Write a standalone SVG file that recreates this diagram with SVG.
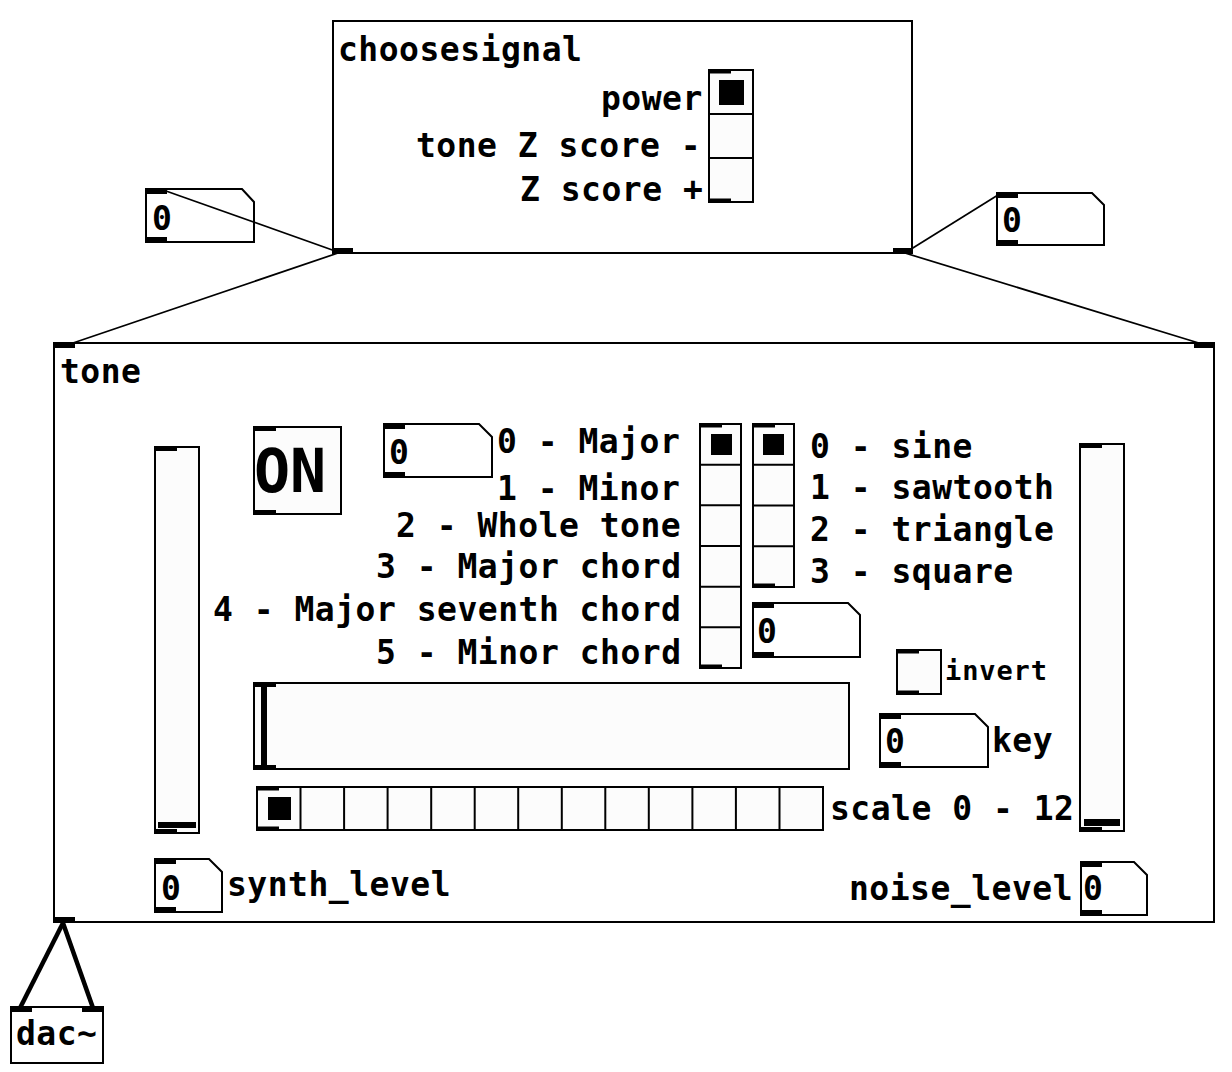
<svg xmlns="http://www.w3.org/2000/svg" width="1232" height="1072" viewBox="0 0 1232 1072">
<style>
.t{font-family:"DejaVu Sans Mono","Liberation Mono",monospace;font-weight:bold;font-size:33px;letter-spacing:0.5px;fill:#000}
.s{font-size:27px;letter-spacing:0.9px}
.on{font-size:60px;letter-spacing:0}
.box{fill:#fff;stroke:#000;stroke-width:2}
.cv{fill:none;stroke:#000;stroke-width:2}
.gui{fill:#fcfcfc;stroke:#000;stroke-width:2}
.dv{stroke:#000;stroke-width:2;fill:none}
.io{fill:#000}
.cn{stroke:#000;stroke-width:1.7;fill:none}
.sig{stroke:#000;stroke-width:4.5;fill:none}
</style>
<rect width="1232" height="1072" fill="#fff"/>

<g id="choosesignal">
<rect class="cv" x="333" y="21" width="579" height="232"/>
<rect class="io" x="333" y="248" width="20" height="5"/>
<rect class="io" x="893" y="248" width="19" height="5"/>
<text class="t" x="338" y="61">choosesignal</text>
<text class="t" x="601" y="110">power</text>
<text class="t" x="416" y="157">tone Z score -</text>
<text class="t" x="520" y="201">Z score +</text>
</g>

<g id="radio-signal">
<rect class="gui" x="709" y="70" width="44" height="132"/>
<path class="dv" d="M709 114H753M709 158H753"/>
<rect class="io" x="709" y="70" width="22" height="3.5"/>
<rect class="io" x="709" y="198.5" width="22" height="3.5"/>
<rect class="io" x="719" y="80" width="25" height="25"/>
</g>

<g id="num-left">
<path class="box" d="M146 189H242L254 202V242H146Z"/>
<rect class="io" x="146" y="189" width="21" height="5"/>
<rect class="io" x="146" y="237" width="21" height="5"/>
<text class="t" x="152" y="230">0</text>
</g>

<g id="num-right">
<path class="box" d="M997 193H1092L1104 205V245H997Z"/>
<rect class="io" x="997" y="193" width="21" height="5"/>
<rect class="io" x="997" y="240" width="21" height="5"/>
<text class="t" x="1002" y="232">0</text>
</g>

<g id="tone">
<rect class="cv" x="54" y="343" width="1160" height="579"/>
<rect class="io" x="54" y="343" width="21" height="5"/>
<rect class="io" x="1194" y="343" width="20" height="5"/>
<rect class="io" x="54" y="917" width="21" height="5"/>
<text class="t" x="60" y="383">tone</text>
</g>

<g id="vslider-synth">
<rect class="gui" x="155" y="447" width="44" height="386"/>
<rect class="io" x="155" y="447" width="22" height="4"/>
<rect class="io" x="155" y="829" width="22" height="4"/>
<rect class="io" x="158" y="822" width="38" height="6"/>
</g>

<g id="toggle-on">
<rect class="gui" x="254" y="427" width="87" height="87"/>
<rect class="io" x="254" y="427" width="22" height="4"/>
<rect class="io" x="254" y="510" width="22" height="4"/>
<text class="t on" x="254" y="492">ON</text>
</g>

<g id="num-scale-type">
<path class="box" d="M384 424H479L492 437V477H384Z"/>
<rect class="io" x="384" y="424" width="21" height="5"/>
<rect class="io" x="384" y="472" width="21" height="5"/>
<text class="t" x="389" y="464">0</text>
</g>

<g id="labels-scale-type">
<text class="t" x="497" y="453">0 - Major</text>
<text class="t" x="497" y="500">1 - Minor</text>
<text class="t" x="396" y="537">2 - Whole tone</text>
<text class="t" x="376" y="578">3 - Major chord</text>
<text class="t" x="213" y="621">4 - Major seventh chord</text>
<text class="t" x="376" y="664">5 - Minor chord</text>
</g>

<g id="radio-scale-type">
<rect class="gui" x="700" y="424" width="41" height="244"/>
<path class="dv" d="M700 464.7H741M700 505.3H741M700 546H741M700 586.7H741M700 627.3H741"/>
<rect class="io" x="700" y="424" width="22" height="3.5"/>
<rect class="io" x="700" y="664.5" width="22" height="3.5"/>
<rect class="io" x="711" y="434" width="21" height="21"/>
</g>

<g id="radio-wave">
<rect class="gui" x="753" y="424" width="41" height="163"/>
<path class="dv" d="M753 464.75H794M753 505.5H794M753 546.25H794"/>
<rect class="io" x="753" y="424" width="22" height="3.5"/>
<rect class="io" x="753" y="583.5" width="22" height="3.5"/>
<rect class="io" x="763" y="434" width="21" height="21"/>
</g>

<g id="labels-wave">
<text class="t" x="810" y="458">0 - sine</text>
<text class="t" x="810" y="499">1 - sawtooth</text>
<text class="t" x="810" y="541">2 - triangle</text>
<text class="t" x="810" y="583">3 - square</text>
</g>

<g id="num-wave">
<path class="box" d="M753 603H848L860 615V657H753Z"/>
<rect class="io" x="753" y="603" width="21" height="5"/>
<rect class="io" x="753" y="652" width="21" height="5"/>
<text class="t" x="757" y="643">0</text>
</g>

<g id="toggle-invert">
<rect class="gui" x="897" y="650" width="44" height="44"/>
<rect class="io" x="897" y="650" width="22" height="3.5"/>
<rect class="io" x="897" y="690.5" width="22" height="3.5"/>
<text class="t s" x="945" y="680">invert</text>
</g>

<g id="hslider">
<rect class="gui" x="254" y="683" width="595" height="86"/>
<rect class="io" x="254" y="683" width="22" height="4"/>
<rect class="io" x="254" y="765" width="22" height="4"/>
<rect class="io" x="261" y="686" width="6" height="80"/>
</g>

<g id="num-key">
<path class="box" d="M880 714H975L988 727V767H880Z"/>
<rect class="io" x="880" y="714" width="21" height="5"/>
<rect class="io" x="880" y="762" width="21" height="5"/>
<text class="t" x="885" y="753">0</text>
<text class="t" x="992" y="752">key</text>
</g>

<g id="hradio-scale">
<rect class="gui" x="257" y="787" width="566" height="43"/>
<path class="dv" d="M300.5 787V830M344.1 787V830M387.6 787V830M431.2 787V830M474.7 787V830M518.2 787V830M561.8 787V830M605.3 787V830M648.8 787V830M692.4 787V830M735.9 787V830M779.5 787V830"/>
<rect class="io" x="257" y="787" width="22" height="3.5"/>
<rect class="io" x="257" y="826.5" width="22" height="3.5"/>
<rect class="io" x="268" y="797" width="23" height="23"/>
<text class="t" x="830" y="820">scale 0 - 12</text>
</g>

<g id="vslider-noise">
<rect class="gui" x="1080" y="444" width="44" height="387"/>
<rect class="io" x="1080" y="444" width="22" height="4"/>
<rect class="io" x="1080" y="827" width="22" height="4"/>
<rect class="io" x="1084" y="819" width="36" height="7"/>
</g>

<g id="num-synth">
<path class="box" d="M155 859H209L222 872V912H155Z"/>
<rect class="io" x="155" y="859" width="21" height="5"/>
<rect class="io" x="155" y="907" width="21" height="5"/>
<text class="t" x="161" y="900">0</text>
<text class="t" x="227" y="896">synth_level</text>
</g>

<g id="num-noise">
<path class="box" d="M1081 862H1134L1147 875V915H1081Z"/>
<rect class="io" x="1081" y="862" width="21" height="5"/>
<rect class="io" x="1081" y="910" width="21" height="5"/>
<text class="t" x="1083" y="900">0</text>
<text class="t" x="849" y="900">noise_level</text>
</g>

<g id="dac">
<rect class="box" x="11" y="1007" width="92" height="56"/>
<rect class="io" x="11" y="1007" width="21" height="5"/>
<rect class="io" x="82" y="1007" width="21" height="5"/>
<text class="t" x="16" y="1045">dac~</text>
</g>

<g id="connectors">
<line class="cn" x1="338" y1="252" x2="166" y2="191"/>
<line class="cn" x1="338" y1="253" x2="70" y2="344"/>
<line class="cn" x1="908" y1="251" x2="998" y2="195"/>
<line class="cn" x1="905" y1="253" x2="1202" y2="344"/>
<line class="sig" x1="63" y1="923" x2="20" y2="1008"/>
<line class="sig" x1="63" y1="923" x2="93" y2="1008"/>
</g>
</svg>
